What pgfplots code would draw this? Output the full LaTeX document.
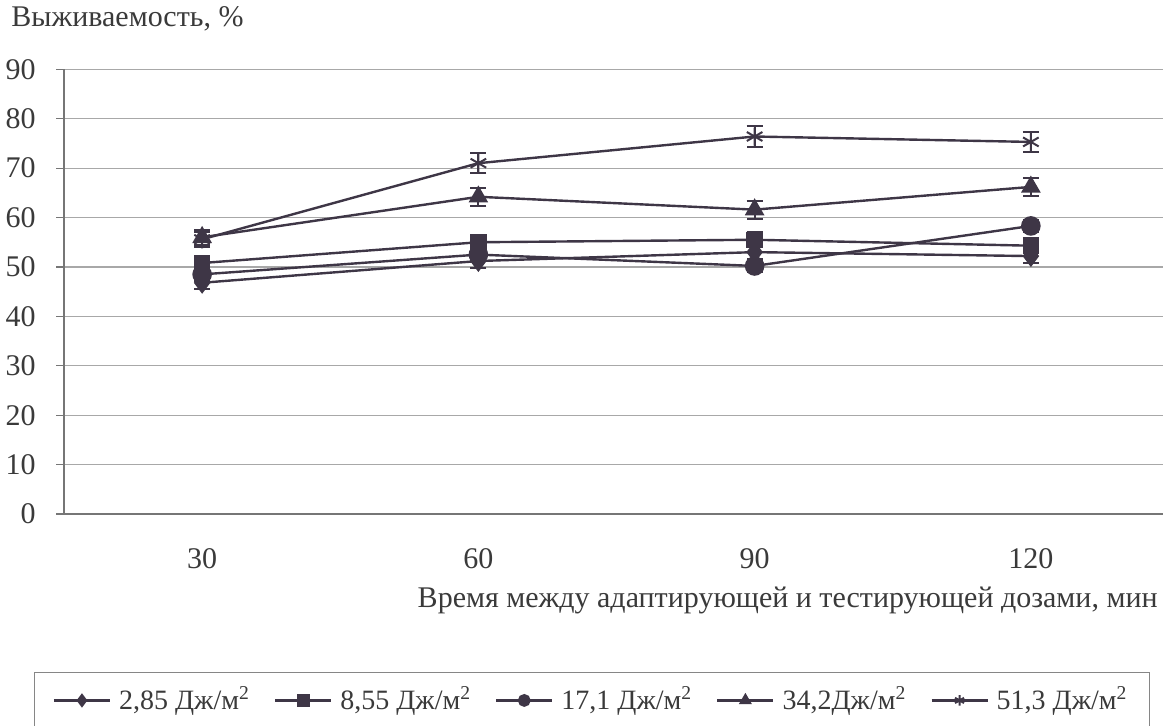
\documentclass[border=0pt]{standalone}
\usepackage{fontspec}
\setmainfont{Liberation Serif}
\usepackage{pgfplots}
\usepackage{pgfplotstable}
\pgfplotsset{compat=1.18}
\definecolor{ink}{HTML}{3E3646}
\definecolor{txt}{HTML}{3A3A3A}
\definecolor{gridc}{HTML}{A8A8A8}

\pgfplotstableread{
x y e
30 46.8 1.2
60 51.2 1.5
90 53.0 1.3
120 52.2 1.4
}\dA
\pgfplotstableread{
x y e
30 50.8 1.2
60 55.0 1.5
90 55.5 1.5
120 54.3 1.5
}\dB
\pgfplotstableread{
x y e
30 48.5 1.3
60 52.5 1.3
90 50.2 1.3
120 58.3 1.3
}\dC
\pgfplotstableread{
x y e
30 56.0 1.5
60 64.2 1.8
90 61.6 1.8
120 66.2 1.8
}\dD
\pgfplotstableread{
x y e
30 55.6 1.5
60 71.0 2.0
90 76.4 2.2
120 75.3 2.0
}\dE

\begin{document}
\fontsize{15pt}{18pt}\selectfont
\begin{tikzpicture}
\path[use as bounding box] (0,0) rectangle (581.5pt,362.5pt);
\begin{axis}[
  at={(32pt,105.5pt)}, anchor=south west,
  scale only axis, width=552.5pt, height=222.35pt,
  xmin=15, xmax=135, ymin=0, ymax=90,
  xtick={30,60,90,120}, ytick={0,10,...,90},
  axis x line*=bottom, axis y line*=left,
  axis line style={-, color=gridc!70!black, line width=0.6pt},
  ymajorgrids, grid style={gridc, line width=0.6pt},
  tick align=outside, major tick length=4pt,
  major x tick style={draw=none},
  major y tick style={gridc!70!black, line width=0.6pt},
  tick label style={font=\fontsize{15pt}{18pt}\selectfont, text=txt},
  /pgf/number format/assume math mode=true,
  yticklabel style={xshift=-5pt},
  xticklabel style={yshift=-8pt},
  clip=false,
  myerr/.style={error bars/.cd, y dir=both, y explicit,
    error bar style={line width=1pt, ink},
    error mark options={rotate=90, mark size=4pt, line width=1pt, ink}},
  legend style={at={(-0.027,-0.355)}, anchor=north west, draw=gridc!80!black,
    line width=0.6pt, font=\fontsize{14pt}{17pt}\selectfont, text=txt,
    legend columns=5, inner xsep=9pt, inner ysep=5pt,
    /tikz/every odd column/.append style={column sep=2pt},
    /tikz/every even column/.append style={column sep=10pt}},
  legend image code/.code={\draw[mark repeat=2,mark phase=2,mark size=2.6pt] plot coordinates {(0pt,0pt) (14pt,0pt) (28pt,0pt)};},
]
\addplot[ink, line width=1.2pt, mark=diamond*, mark size=4.5pt, mark options={fill=ink, draw=ink, solid}, myerr]
  table[x=x, y=y, y error=e] {\dA};
\addlegendentry{2,85 Дж/м\textsuperscript{2}}
\addplot[ink, line width=1.2pt, mark=square*, mark size=3.5pt, mark options={fill=ink, draw=ink, solid}, myerr]
  table[x=x, y=y, y error=e] {\dB};
\addlegendentry{8,55 Дж/м\textsuperscript{2}}
\addplot[ink, line width=1.2pt, mark=*, mark size=4.3pt, mark options={fill=ink, draw=ink, solid}, myerr]
  table[x=x, y=y, y error=e] {\dC};
\addlegendentry{17,1 Дж/м\textsuperscript{2}}
\addplot[ink, line width=1.2pt, mark=triangle*, mark size=4.5pt, mark options={fill=ink, draw=ink, solid}, myerr]
  table[x=x, y=y, y error=e] {\dD};
\addlegendentry{34,2Дж/м\textsuperscript{2}}
\addplot[ink, line width=1.2pt, mark=asterisk, mark size=4.5pt, mark options={draw=ink, solid, line width=1pt}, myerr]
  table[x=x, y=y, y error=e] {\dE};
\addlegendentry{51,3 Дж/м\textsuperscript{2}}
\end{axis}
\node[anchor=west, text=txt, inner sep=0pt] at (5.5pt,353pt) {Выживаемость, \%};
\node[anchor=east, text=txt, inner sep=0pt] at (579pt,62.5pt) {Время между адаптирующей и тестирующей дозами, мин};
\end{tikzpicture}
\end{document}
